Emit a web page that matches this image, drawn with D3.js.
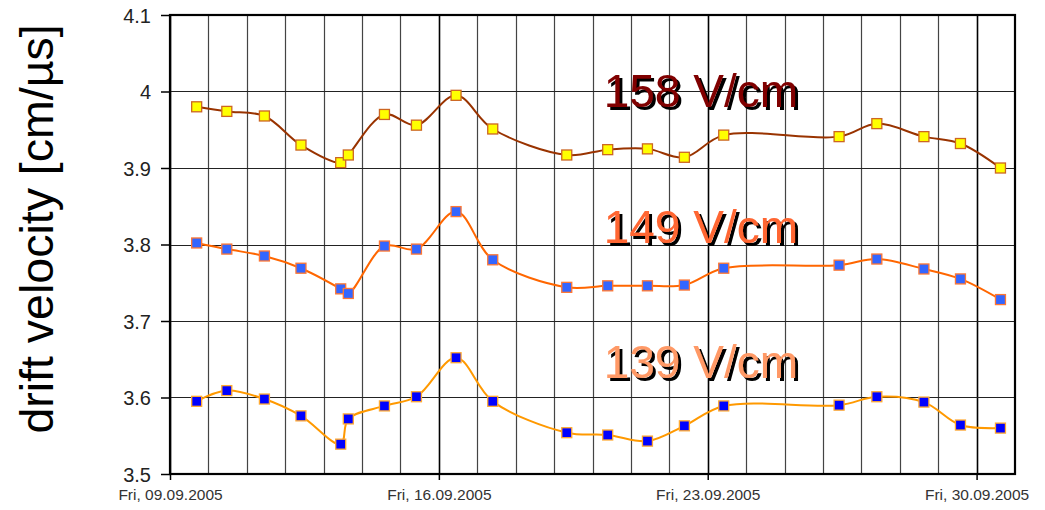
<!DOCTYPE html>
<html>
<head>
<meta charset="utf-8">
<script src="https://cdnjs.cloudflare.com/ajax/libs/d3/7.8.5/d3.min.js"></script>
<style>
  body { margin: 0; background: #fff; }
  text { font-family: Arial, "Liberation Sans", sans-serif; }
</style>
</head>
<body>
<div id="graph_draw"></div>
<script>
// measurement times (same for all three fields)
var times = ["2005-09-09T16:40", "2005-09-10T11:30", "2005-09-11T11:00", "2005-09-12T09:50",
             "2005-09-13T10:40", "2005-09-13T15:25", "2005-09-14T14:00", "2005-09-15T10:00",
             "2005-09-16T10:45", "2005-09-17T09:40", "2005-09-19T07:55", "2005-09-20T09:30",
             "2005-09-21T10:20", "2005-09-22T09:25", "2005-09-23T10:00", "2005-09-26T10:05",
             "2005-09-27T09:40", "2005-09-28T15:05", "2005-09-29T13:55", "2005-09-30T14:55"];

// drift velocity [cm/us] for each field
var v158 = [3.980, 3.974, 3.968, 3.930, 3.907, 3.917, 3.970, 3.956, 3.995, 3.951,
            3.917, 3.924, 3.925, 3.914, 3.943, 3.941, 3.958, 3.941, 3.932, 3.900];
var v149 = [3.802, 3.794, 3.785, 3.769, 3.742, 3.736, 3.798, 3.794, 3.843, 3.780,
            3.744, 3.746, 3.746, 3.747, 3.769, 3.773, 3.781, 3.768, 3.755, 3.728];
var v139 = [3.595, 3.609, 3.598, 3.576, 3.539, 3.572, 3.589, 3.601, 3.652, 3.595,
            3.554, 3.551, 3.543, 3.563, 3.589, 3.590, 3.601, 3.594, 3.564, 3.560];

var seriesNames = ["158 V/cm", "149 V/cm", "139 V/cm"];
var labelValues = [3.980, 3.802, 3.626]; // where the field labels sit (baseline)
var labelDate = "2005-09-20T07:00";
var xStart = "2005-09-09", xEnd = "2005-10-01";
var weekTicks = ["2005-09-09", "2005-09-16", "2005-09-23", "2005-09-30"];
var yTicks = [3.5, 3.6, 3.7, 3.8, 3.9, 4.0, 4.1];

// set the dimensions and margins of the graph
var margin = {top: 15, right: 30, bottom: 36, left: 170},
    width = 1045 - margin.left - margin.right,
    height = 510 - margin.top - margin.bottom;

var parseTime = d3.timeParse("%Y-%m-%dT%H:%M");
var parseDay = d3.timeParse("%Y-%m-%d");
var fmt = d3.timeFormat("%a, %d.%m.%Y");

var x = d3.scaleTime().domain([parseDay(xStart), parseDay(xEnd)]).range([0, width]);
var y = d3.scaleLinear().domain([3.5, 4.1]).range([height, 0]);

var styles = [
    {line: "#993300", fill: "#ffff00", stroke: "#cc6622", text: "#800000"},
    {line: "#ff6600", fill: "#3366ff", stroke: "#ff7733", text: "#ff6633"},
    {line: "#ff9900", fill: "#0000ff", stroke: "#ffaa33", text: "#ff9966"}
];

var series = [v158, v149, v139].map(function(vals) {
    return vals.map(function(v, i) { return {date: parseTime(times[i]), value: v}; });
});

var root = d3.select("#graph_draw").append("svg")
    .attr("width", 1045)
    .attr("height", 510);

// black drop shadow for the field labels
var f = root.append("defs").append("filter").attr("id", "shadow")
    .attr("x", "-5%").attr("y", "-20%").attr("width", "115%").attr("height", "150%");
f.append("feOffset").attr("in", "SourceAlpha").attr("dx", 2.5).attr("dy", 2.5).attr("result", "off");
var merge = f.append("feMerge");
merge.append("feMergeNode").attr("in", "off");
merge.append("feMergeNode").attr("in", "SourceGraphic");

var svg = root.append("g")
    .attr("transform", "translate(" + margin.left + "," + margin.top + ")");

// daily vertical grid
var days = d3.timeDay.range(parseDay(xStart), parseDay(xEnd));
svg.append("g").selectAll("line")
    .data(days)
    .enter().append("line")
    .attr("x1", function(d) { return Math.round(x(d)) + 0.5; })
    .attr("x2", function(d) { return Math.round(x(d)) + 0.5; })
    .attr("y1", 0).attr("y2", height)
    .attr("stroke", function(d) { return d.getDay() == 5 ? "#000" : "#444"; })
    .attr("stroke-width", function(d) { return d.getDay() == 5 ? 1.6 : 1.2; });

// horizontal grid
svg.append("g").selectAll("line")
    .data(yTicks)
    .enter().append("line")
    .attr("x1", 0).attr("x2", width)
    .attr("y1", function(d) { return Math.round(y(d)) + 0.5; })
    .attr("y2", function(d) { return Math.round(y(d)) + 0.5; })
    .attr("stroke", "#222")
    .attr("stroke-width", 1.2);

// Y axis
var yAxis = svg.append("g")
    .call(d3.axisLeft(y).tickValues(yTicks).tickSize(9).tickPadding(10)
        .tickFormat(function(d) { return d == 4 ? "4" : d3.format(".1f")(d); }));
yAxis.select(".domain").remove();
yAxis.selectAll("line").attr("stroke", "#000").attr("stroke-width", 1.5);
yAxis.selectAll("text").attr("font-size", 20).attr("fill", "#222").attr("dy", "0.36em");

// X axis
var xAxis = svg.append("g")
    .attr("transform", "translate(0," + height + ")")
    .call(d3.axisBottom(x).tickValues(weekTicks.map(parseDay)).tickSize(6).tickPadding(7).tickFormat(fmt));
xAxis.select(".domain").remove();
xAxis.selectAll("line").attr("stroke", "#000").attr("stroke-width", 1.5);
xAxis.selectAll("text").attr("font-size", 15.5).attr("fill", "#333").attr("dy", "0.85em");

// plot frame
svg.append("rect")
    .attr("x", 0).attr("y", 0)
    .attr("width", width).attr("height", height)
    .attr("fill", "none")
    .attr("stroke", "#000")
    .attr("stroke-width", 2.2);

// define the smoothed line
var valueline = d3.line()
    .curve(d3.curveCatmullRom.alpha(0.5))
    .x(function(d) { return x(d.date); })
    .y(function(d) { return y(d.value); });

series.forEach(function(data, k) {
    svg.append("path")
        .data([data])
        .attr("fill", "none")
        .attr("stroke", styles[k].line)
        .attr("stroke-width", 2)
        .attr("d", valueline);

    svg.append("g").selectAll("rect")
        .data(data)
        .enter().append("rect")
        .attr("x", function(d) { return x(d.date) - 5; })
        .attr("y", function(d) { return y(d.value) - 5; })
        .attr("width", 10).attr("height", 10)
        .attr("fill", styles[k].fill)
        .attr("stroke", styles[k].stroke)
        .attr("stroke-width", 1.3);

    // field label
    svg.append("text")
        .attr("x", x(parseTime(labelDate))).attr("y", y(labelValues[k]))
        .attr("font-size", 46)
        .attr("fill", styles[k].text)
        .attr("filter", "url(#shadow)")
        .text(seriesNames[k]);
});

// Y label
root.append("text")
    .attr("transform", "translate(53," + 229 + ") rotate(-90)")
    .attr("text-anchor", "middle")
    .attr("font-size", 46.5)
    .attr("fill", "#000")
    .text("drift velocity [cm/µs]");
</script>
</body>
</html>
